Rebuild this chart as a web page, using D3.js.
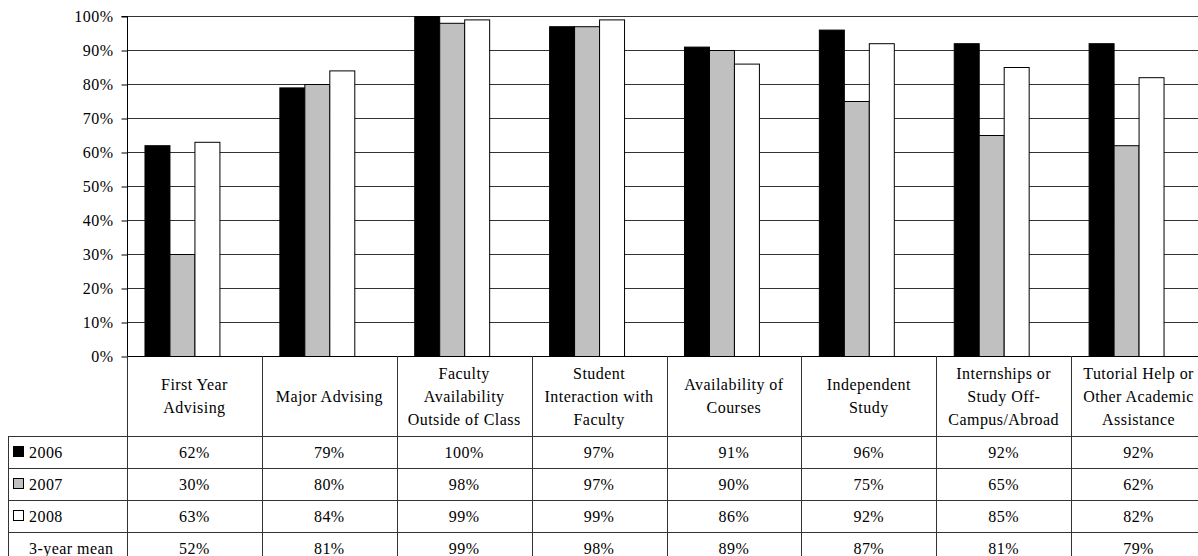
<!DOCTYPE html>
<html>
<head>
<meta charset="utf-8">
<script src="https://cdn.jsdelivr.net/npm/d3@7"></script>
<style>
  html, body { margin: 0; padding: 0; background: #fff; }
  svg { display: block; font-family: "Liberation Serif", "Times New Roman", serif; }
</style>
</head>
<body>
<svg id="chart" width="1198" height="556"></svg>
<script>
// Satisfaction with academic services, by survey year
const categories = [
  ["First Year", "Advising"],
  ["Major Advising"],
  ["Faculty", "Availability", "Outside of Class"],
  ["Student", "Interaction with", "Faculty"],
  ["Availability of", "Courses"],
  ["Independent", "Study"],
  ["Internships or", "Study Off-", "Campus/Abroad"],
  ["Tutorial Help or", "Other Academic", "Assistance"]
];
const seriesNames = ["2006", "2007", "2008", "3-year mean"];
const values2006 = [62, 79, 100, 97, 91, 96, 92, 92];
const values2007 = [30, 80, 98, 97, 90, 75, 65, 62];
const values2008 = [63, 84, 99, 99, 86, 92, 85, 82];
const valuesMean = [52, 81, 99, 98, 89, 87, 81, 79];
const yTicks = [0, 10, 20, 30, 40, 50, 60, 70, 80, 90, 100];

const seriesValues = [values2006, values2007, values2008, valuesMean];
const fills = ["#000000", "#c0c0c0", "#ffffff", "none"];
const strokes = ["#000", "#000", "#000", "none"];

const svg = d3.select("#chart");
const plotLeft = 127, plotRight = 1206, plotTop = 16, plotBottom = 356;
const tableLeft = 8, headerBottom = 436, rowH = 32;
const fontSize = "16px", spacing = "0.45px";

const catIdx = d3.range(categories.length);
const x0 = d3.scaleBand().domain(catIdx).range([plotLeft, plotRight]).paddingInner(0).paddingOuter(0);
const x1 = d3.scaleBand().domain(d3.range(seriesNames.length)).range([0, x0.bandwidth()])
  .paddingInner(0).paddingOuter(0.7);
const y = d3.scaleLinear().domain([0, 100]).range([plotBottom, plotTop]);

// gridlines
svg.append("g")
  .selectAll("line").data(yTicks.filter(t => t > 0)).join("line")
  .attr("x1", plotLeft).attr("x2", plotRight)
  .attr("y1", d => y(d) + 0.5).attr("y2", d => y(d) + 0.5)
  .attr("stroke", "#333").attr("stroke-width", 1);

// bars
const groups = svg.append("g").selectAll("g").data(catIdx).join("g")
  .attr("transform", i => `translate(${x0(i)},0)`);
groups.selectAll("rect")
  .data(i => seriesValues.map((vals, s) => ({ s, v: vals[i] })))
  .join("rect")
  .attr("x", d => x1(d.s) + 0.5)
  .attr("y", d => y(d.v) + 0.5)
  .attr("width", x1.bandwidth())
  .attr("height", d => y(0) - y(d.v))
  .attr("fill", d => fills[d.s])
  .attr("stroke", d => strokes[d.s])
  .attr("stroke-width", 1);

// y axis
const yAxis = d3.axisLeft(y).tickValues(yTicks).tickFormat(d => d + "%").tickSize(6).tickPadding(8);
const ya = svg.append("g").attr("transform", `translate(${plotLeft + 0.5},0.5)`).call(yAxis);
ya.select(".domain").attr("stroke", "#000").attr("d", `M-6,${plotTop}H0V${plotBottom}`);
ya.selectAll(".tick line").attr("stroke", "#000");
ya.selectAll(".tick text").attr("fill", "#000").style("font-size", fontSize)
  .style("font-family", "'Liberation Serif', serif").style("letter-spacing", spacing);

// data table
const table = svg.append("g").attr("stroke", "#333").attr("stroke-width", 1);
const tableBottom = headerBottom + rowH * 4;
table.append("line").attr("x1", plotLeft).attr("x2", plotRight)
  .attr("y1", plotBottom + 0.5).attr("y2", plotBottom + 0.5).attr("stroke", "#000");
// column separators
catIdx.concat([categories.length]).forEach(i => {
  const xv = i < categories.length ? x0(i) : plotRight;
  table.append("line").attr("x1", Math.round(xv) + 0.5).attr("x2", Math.round(xv) + 0.5)
    .attr("y1", plotBottom).attr("y2", tableBottom);
});
// row separators
d3.range(5).forEach(r => {
  const yy = headerBottom + r * rowH;
  table.append("line").attr("x1", tableLeft).attr("x2", plotRight)
    .attr("y1", yy + 0.5).attr("y2", yy + 0.5);
});
table.append("line").attr("x1", tableLeft + 0.5).attr("x2", tableLeft + 0.5)
  .attr("y1", headerBottom).attr("y2", tableBottom);

const txt = svg.append("g").attr("fill", "#000")
  .style("font-size", fontSize).style("letter-spacing", spacing);

// category header labels
const lineH = 23;
catIdx.forEach(i => {
  const lines = categories[i];
  const cx = x0(i) + x0.bandwidth() / 2;
  const cy = (plotBottom + headerBottom) / 2;
  lines.forEach((ln, k) => {
    txt.append("text").attr("x", cx)
      .attr("y", cy + (k - (lines.length - 1) / 2) * lineH)
      .attr("dy", "0.35em").attr("text-anchor", "middle").text(ln);
  });
});

// row labels with legend keys
seriesNames.forEach((name, s) => {
  const cy = headerBottom + s * rowH + rowH / 2;
  if (fills[s] !== "none") {
    svg.append("rect").attr("x", 13.5).attr("y", cy - 5.5).attr("width", 10).attr("height", 10)
      .attr("fill", fills[s]).attr("stroke", "#000");
  }
  txt.append("text").attr("x", 29).attr("y", cy).attr("dy", "0.35em").text(name);
  catIdx.forEach(i => {
    txt.append("text").attr("x", x0(i) + x0.bandwidth() / 2).attr("y", cy)
      .attr("dy", "0.35em").attr("text-anchor", "middle").text(seriesValues[s][i] + "%");
  });
});
</script>
</body>
</html>
